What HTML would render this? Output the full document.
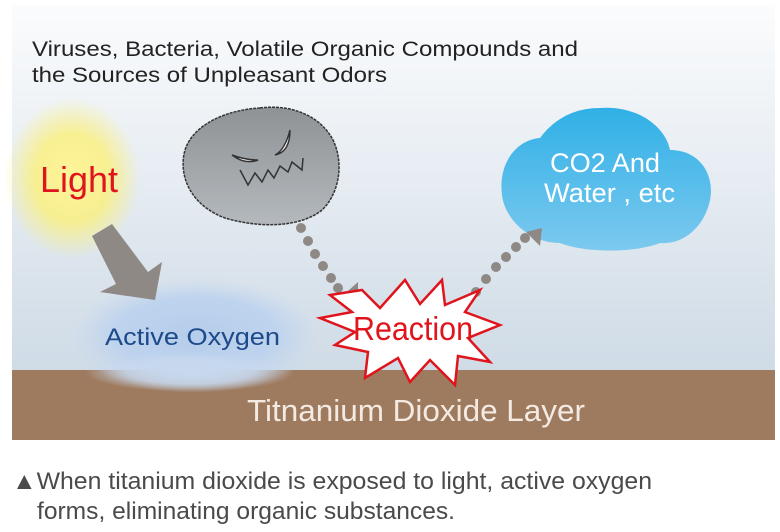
<!DOCTYPE html>
<html><head><meta charset="utf-8"><style>
html,body{margin:0;padding:0;background:#fff;width:780px;height:532px;overflow:hidden}
svg{display:block}
text{font-family:"Liberation Sans Narrow","Liberation Sans",sans-serif}
</style></head><body>
<svg width="780" height="532" viewBox="0 0 780 532" xmlns="http://www.w3.org/2000/svg">
<defs>
<linearGradient id="bg" x1="0" y1="0" x2="0" y2="1">
<stop offset="0" stop-color="#fbfcfd"/><stop offset="1" stop-color="#cfdbe6"/></linearGradient>
<radialGradient id="sun"><stop offset="0" stop-color="#fff59a"/><stop offset="0.55" stop-color="#fbf07a" stop-opacity="0.8"/><stop offset="1" stop-color="#fbf07a" stop-opacity="0"/></radialGradient>
<radialGradient id="ox"><stop offset="0" stop-color="#b5cdec"/><stop offset="0.65" stop-color="#bcd2ee" stop-opacity="0.9"/><stop offset="1" stop-color="#c5d8ef" stop-opacity="0"/></radialGradient>
<radialGradient id="ox2"><stop offset="0" stop-color="#c8d9ee"/><stop offset="0.6" stop-color="#c8d9ee" stop-opacity="0.8"/><stop offset="1" stop-color="#c8d9ee" stop-opacity="0"/></radialGradient>
<linearGradient id="blue" x1="0" y1="0" x2="0" y2="1"><stop offset="0" stop-color="#2fb0e6"/><stop offset="1" stop-color="#7cc9ef"/></linearGradient>
<linearGradient id="gray" x1="0" y1="0" x2="0" y2="1"><stop offset="0" stop-color="#8e9295"/><stop offset="1" stop-color="#b4b9bd"/></linearGradient>
</defs>
<rect x="12" y="5" width="763" height="365" fill="url(#bg)"/>
<ellipse cx="72" cy="178" rx="68" ry="80" fill="url(#sun)"/>
<rect x="12" y="370" width="763" height="70" fill="#9e7a5e"/>
<ellipse cx="195" cy="335" rx="125" ry="58" fill="url(#ox)"/>
<ellipse cx="190" cy="372" rx="105" ry="20" fill="url(#ox2)"/>
<text x="32" y="56" font-size="21" fill="#222" textLength="546" lengthAdjust="spacingAndGlyphs">Viruses, Bacteria, Volatile Organic Compounds and</text>
<text x="32" y="82" font-size="21" fill="#222" textLength="355" lengthAdjust="spacingAndGlyphs">the Sources of Unpleasant Odors</text>
<text x="40" y="192" font-size="36" fill="#e0141c" textLength="78" lengthAdjust="spacingAndGlyphs">Light</text>
<polygon points="92,236 112,224 148,272 162,262 155,300 100,292 116,284" fill="#8f8985"/>
<text x="105" y="345" font-size="24" fill="#1d4a8a" textLength="175" lengthAdjust="spacingAndGlyphs">Active Oxygen</text>
<path d="M260,108 C290,104 320,115 333,140 C345,165 338,195 322,210 C300,228 258,228 225,218 C190,205 178,175 185,150 C193,125 225,110 260,108Z" fill="url(#gray)" stroke="#333" stroke-width="1.5" stroke-dasharray="3 1"/>
<path d="M232,155 Q245,165 258,160 Q245,160 232,155Z" fill="#fff" stroke="#333" stroke-width="1.5"/>
<path d="M290,130 Q285,150 275,155 Q290,152 290,130Z" fill="#fff" stroke="#333" stroke-width="1.5"/>
<polyline points="240,170 248,185 255,173 262,182 268,170 274,178 280,166 288,172 292,162 302,170 303,158" fill="none" stroke="#333" stroke-width="1.5"/>
<path d="M600,108 C635,105 665,125 670,150 C700,150 715,175 710,200 C705,225 685,245 660,243 C635,253 585,253 560,243 C530,243 505,220 502,195 C498,165 515,140 540,138 C555,118 575,108 600,108Z" fill="url(#blue)"/>
<text x="550" y="172" font-size="27" fill="#fff" textLength="110" lengthAdjust="spacingAndGlyphs">CO2 And</text>
<text x="544" y="202" font-size="27" fill="#fff" textLength="131" lengthAdjust="spacingAndGlyphs">Water , etc</text>
<g fill="#8f8985">
<circle cx="301" cy="228" r="5"/><circle cx="308" cy="241" r="5"/><circle cx="315" cy="254" r="5"/><circle cx="323" cy="266" r="5"/><circle cx="331" cy="278" r="5"/><circle cx="338" cy="288" r="5"/>
<polygon points="340,298 358,298 358,282"/>
<circle cx="476" cy="292" r="5"/><circle cx="486" cy="279" r="5"/><circle cx="496" cy="267" r="5"/><circle cx="506" cy="257" r="5"/><circle cx="516" cy="247" r="5"/><circle cx="525" cy="238" r="5"/>
<polygon points="542,228 526,232 540,246"/>
</g>
<polygon points="362,290 380,308 405,280 420,304 442,280 445,305 480,290 465,312 500,325 468,338 490,362 458,356 455,385 430,360 410,382 398,358 365,378 368,352 335,345 355,332 320,318 352,312 330,295" fill="#fff" stroke="#e0141c" stroke-width="2.5" stroke-linejoin="miter"/>
<text x="353" y="340" font-size="33" fill="#e0141c" textLength="120" lengthAdjust="spacingAndGlyphs">Reaction</text>
<text x="247" y="421" font-size="31" fill="#f3ebe3" textLength="338" lengthAdjust="spacingAndGlyphs">Titnanium Dioxide Layer</text>
<text x="12" y="489" font-size="24" fill="#4a4a4a" textLength="640" lengthAdjust="spacingAndGlyphs">▲When titanium dioxide is exposed to light, active oxygen</text>
<text x="37" y="519" font-size="24" fill="#4a4a4a" textLength="418" lengthAdjust="spacingAndGlyphs">forms, eliminating organic substances.</text>
</svg>
</body></html>
